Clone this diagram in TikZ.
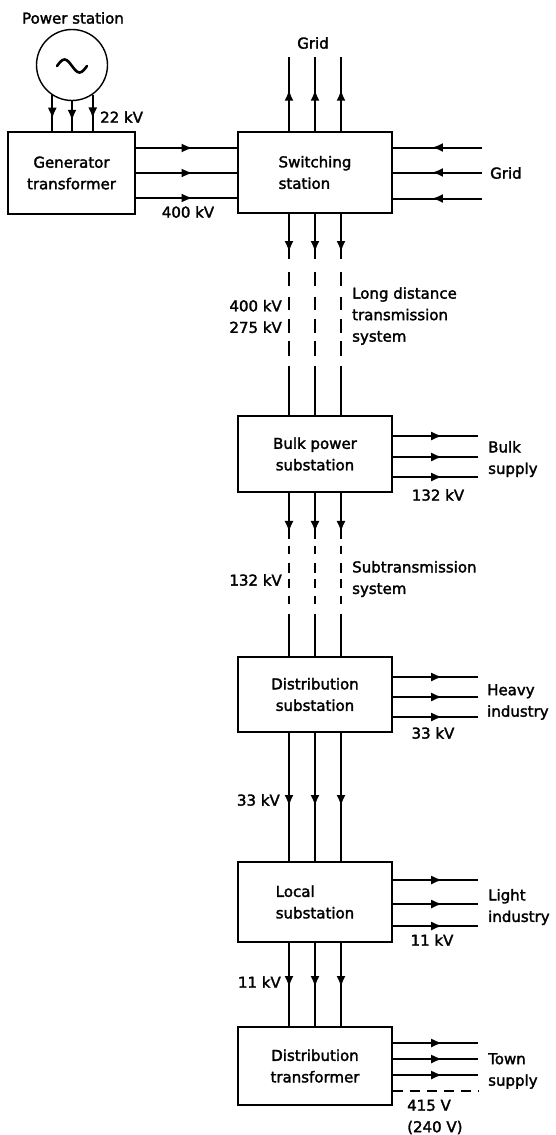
\documentclass[tikz,border=0pt]{standalone}
\usepackage{fontspec}
\setmainfont{DejaVu Sans}[FakeBold=2]
\usetikzlibrary{arrows.meta,decorations.markings}

\tikzset{
  unit/.style={draw,line width=1.4pt,minimum width=154pt,minimum height=78pt,inner sep=0pt,align=center},
  feed/.style={line width=2pt},
  flow/.style={feed,postaction={decorate},
    decoration={markings,mark=at position #1 with {\arrow{Latex[length=11pt,width=9pt]}}}},
  tag/.style={inner sep=0pt,align=left},
  longhaul/.style={dash pattern=on 45pt off 13pt on 14pt off 11pt on 13pt off 9pt on 14pt off 8pt on 15pt off 10pt on 60pt},
  subhaul/.style={dash pattern=on 46pt off 7pt on 8pt off 9pt on 10pt off 6pt on 9pt off 8pt on 8pt off 10pt on 60pt},
  lowvolt/.style={feed,dash pattern=on 10pt off 7pt},
}

\begin{document}
\begin{tikzpicture}[x=1pt,y=-1pt,font=\fontsize{15}{21.5}\selectfont]
\useasboundingbox (0,0) rectangle (555,1135);

% plant
\node[draw,circle,line width=1.4pt,minimum size=71pt,inner sep=0pt] (ps) at (72,65) {};
\draw[line width=2.6pt,line cap=round] ([xshift=-15pt,yshift=-1pt]ps.center)
  sin ++(7.5,-6.5) cos ++(7.5,6.5) sin ++(7.5,6.5) cos ++(7.5,-6.5);
\node (pslbl) at (73,18) {Power station};
\node[unit,minimum width=127pt,minimum height=82pt] (gen) at (71.5,173) {Generator\\transformer};
\node[unit,minimum height=81pt,align=left] (sw) at (315,172.5) {Switching\\station};

% chain of substations
\node[unit,minimum height=76pt] (bulk) at (315,454) {Bulk power\\substation};
\node[unit,minimum height=75pt] (dist) at (315,694.5) {Distribution\\substation};
\node[unit,minimum height=80pt,align=left] (local) at (315,902) {Local\\substation};
\node[unit] (dtr) at (315,1066) {Distribution\\transformer};

\coordinate (gridtop) at (315,57);
\coordinate (gridin) at (482,172.5);
\coordinate (outer) at (478,0);

% generator leads
\foreach \a in {-123,-90,-55}
  \draw[flow=0.65] (ps.\a) -- (ps.\a |- gen.north);
\foreach \dy in {25,0,-25}
  \draw[flow=0.56] ([yshift=\dy pt]gen.east) -- ([yshift=\dy pt]gen.east -| sw.west);

% grid connections
\foreach \dx in {-26,0,26}
  \draw[flow=0.56] ([xshift=\dx pt]sw.north) -- ([xshift=\dx pt]gridtop);
\foreach \dy in {25,0,-26}
  \draw[flow=0.56] ([yshift=\dy pt]gridin) -- ([yshift=\dy pt]gridin -| sw.east);

% trunk lines
\foreach \dx in {-26,0,26}{
  \draw[flow=0.19,longhaul] ([xshift=\dx pt]sw.south) -- ([xshift=\dx pt]bulk.north);
  \draw[flow=0.24,subhaul] ([xshift=\dx pt]bulk.south) -- ([xshift=\dx pt]dist.north);
  \draw[flow=0.57] ([xshift=\dx pt]dist.south) -- ([xshift=\dx pt]local.north);
  \draw[flow=0.53] ([xshift=\dx pt]local.south) -- ([xshift=\dx pt]dtr.north);
}

% supplies
\foreach \dy in {18,-3,-23}
  \draw[flow=0.58] ([yshift=\dy pt]bulk.east) -- ([yshift=\dy pt]bulk.east -| outer);
\foreach \dy in {17.5,-2.5,-22.5}
  \draw[flow=0.58] ([yshift=\dy pt]dist.east) -- ([yshift=\dy pt]dist.east -| outer);
\foreach \dy in {22,-2,-24}
  \draw[flow=0.58] ([yshift=\dy pt]local.east) -- ([yshift=\dy pt]local.east -| outer);
\foreach \dy in {23,7,-9}
  \draw[flow=0.58] ([yshift=\dy pt]dtr.east) -- ([yshift=\dy pt]dtr.east -| outer);
\draw[lowvolt] ([yshift=-25pt]dtr.east) -- ([yshift=-25pt]dtr.east -| outer);

% voltages and names
\node[tag,anchor=west] (v22) at (100,117) {22 kV};
\node[tag] (v400) at (188,212) {400 kV};
\node[tag] (gridn) at (313,43) {Grid};
\node[tag,anchor=west] (gride) at (490,173) {Grid};
\node[tag,anchor=east,align=right] (vlong) at (282,316.5) {400 kV\\275 kV};
\node[tag,anchor=west] (long) at (352,316) {Long distance\\transmission\\system};
\node[tag,anchor=west] (bulkl) at (488,459) {Bulk\\supply};
\node[tag] (v132a) at (438,495) {132 kV};
\node[tag,anchor=east] (v132b) at (282,580) {132 kV};
\node[tag,anchor=west] (sub) at (352,579) {Subtransmission\\system};
\node[tag,anchor=west] (heavy) at (487,702) {Heavy\\industry};
\node[tag] (v33a) at (433,733) {33 kV};
\node[tag,anchor=east] (v33b) at (280,800) {33 kV};
\node[tag,anchor=west] (light) at (488,907) {Light\\industry};
\node[tag] (v11a) at (432,940) {11 kV};
\node[tag,anchor=east] (v11b) at (281,982) {11 kV};
\node[tag,anchor=west] (town) at (488,1071) {Town\\supply};
\node[tag,anchor=west] (v415) at (407,1117) {415 V\\(240 V)};
\end{tikzpicture}
\end{document}
